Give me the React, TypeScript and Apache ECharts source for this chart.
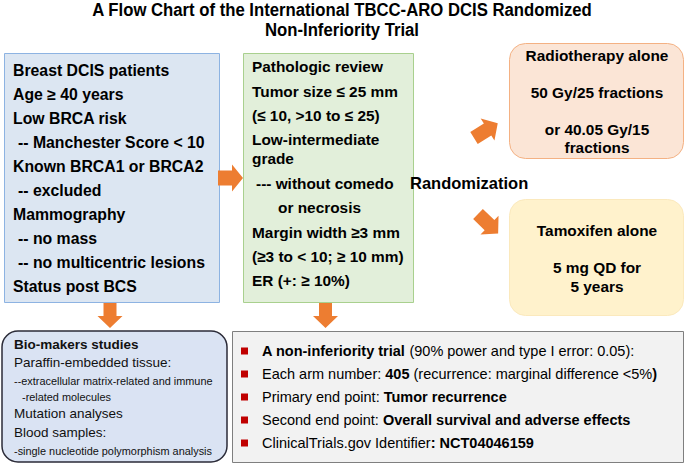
import React, { useEffect, useRef } from "react";
import * as echarts from "echarts";

const titleLines = [
  "A Flow Chart of the International TBCC-ARO DCIS Randomized",
  "Non-Inferiority Trial",
];
const eligibility = [
  "Breast DCIS patients",
  "Age ≥ 40 years",
  "Low BRCA risk",
  "-- Manchester Score < 10",
  "Known BRCA1 or BRCA2",
  "-- excluded",
  "Mammography",
  "-- no mass",
  "-- no multicentric lesions",
  "Status post BCS",
];
const pathology = [
  "Pathologic review",
  "Tumor size ≤ 25 mm",
  "(≤ 10, >10 to ≤ 25)",
  "Low-intermediate",
  "grade",
  "--- without comedo",
  "or necrosis",
  "Margin width ≥3 mm",
  "(≥3 to < 10; ≥ 10 mm)",
  "ER (+: ≥ 10%)",
];
const radiotherapy = ["Radiotherapy alone", "50 Gy/25 fractions", "or 40.05 Gy/15", "fractions"];
const tamoxifen = ["Tamoxifen alone", "5 mg QD for", "5 years"];
const randomLabel = "Randomization";
const biomarkers = [
  "Bio-makers studies",
  "Paraffin-embedded tissue:",
  "--extracellular matrix-related and immune",
  "-related molecules",
  "Mutation analyses",
  "Blood samples:",
  "-single nucleotide polymorphism analysis",
];
const trialFacts = [
  "{b|A non-inferiority trial} (90% power and type I error: 0.05):",
  "Each arm number: {b|405} (recurrence: marginal difference <5%{b|)}",
  "Primary end point: {b|Tumor recurrence}",
  "Second end point: {b|Overall survival and adverse effects}",
  "ClinicalTrials.gov Identifier{b|: NCT04046159}",
];

const FONT = "'Liberation Sans', Arial, Helvetica, sans-serif";
const ORANGE = "#ed7d31";

function txt(text: string, x: number, y: number, o: any = {}) {
  const align = o.align || "left";
  return {
    type: "text",
    x,
    y,
    silent: true,
    scaleX: o.scaleX ?? 1,
    style: {
      text,
      fill: o.fill || "#000",
      fontFamily: o.fontFamily || FONT,
      fontSize: o.fontSize || 15,
      fontWeight: o.fontWeight || "bold",
      align,
      verticalAlign: "middle",
      textAlign: align,
      textVerticalAlign: "middle",
      rich: o.rich,
    },
  };
}

function arrow(tx: number, ty: number, angleDeg: number, L: number, hl: number, bh: number, hh: number) {
  const local = [
    [0, -bh],
    [L - hl, -bh],
    [L - hl, -hh],
    [L, 0],
    [L - hl, hh],
    [L - hl, bh],
    [0, bh],
  ];
  const a = (angleDeg * Math.PI) / 180;
  const c = Math.cos(a);
  const s = Math.sin(a);
  const points = local.map(([x, y]) => [tx + x * c - y * s, ty + x * s + y * c]);
  return { type: "polygon", silent: true, shape: { points }, style: { fill: ORANGE } };
}

function box(x: number, y: number, w: number, h: number, r: number, fill: string, stroke: string, lw = 1) {
  return {
    type: "rect",
    silent: true,
    shape: { x, y, width: w, height: h, r },
    style: { fill, stroke, lineWidth: lw },
  };
}

export default function App() {
  const ref = useRef<HTMLDivElement>(null);
  useEffect(() => {
    if (!ref.current) return;
    const chart = echarts.init(ref.current, undefined, { renderer: "svg" });
    const els: any[] = [];

    // title (condensed look)
    els.push(txt(titleLines[0], 342, 9.5, { align: "center", fontSize: 19, scaleX: 0.88 }));
    els.push(txt(titleLines[1], 342, 29.5, { align: "center", fontSize: 19, scaleX: 0.88 }));

    // boxes
    els.push(box(4.5, 53.5, 215, 249, 0, "#dce6f2", "#8db3e2"));
    els.push(box(243.5, 53.5, 170, 249, 0, "#e2efda", "#a9d08e"));
    els.push(box(509.5, 43.5, 174, 115, 16, "#fbe5d6", "#f4b183"));
    els.push(box(509.5, 199.5, 174, 116, 16, "#fff2cc", "#fbe9bd"));
    els.push(box(2, 331, 225, 131, 16, "#dae3f3", "#2b2b38", 1.5));
    els.push(box(232.5, 331.5, 451, 131, 0, "#f2f2f2", "#7f7f7f"));

    // eligibility text
    eligibility.forEach((t, i) => {
      const indent = t.startsWith("-") ? 5 : 0;
      els.push(txt(t, 13 + indent, 70 + i * 24.1, { fontSize: 15.8 }));
    });

    // pathology text
    const pathY = [66, 91, 115, 139, 158, 183, 207, 232, 256, 280];
    const pathX = [252, 252, 252, 252, 252, 256, 278, 252, 252, 252];
    pathology.forEach((t, i) => {
      els.push(txt(t, pathX[i], pathY[i], { fontSize: 15.4 }));
    });

    // arms
    const radY = [55, 92, 129, 147];
    radiotherapy.forEach((t, i) => els.push(txt(t, 597, radY[i], { align: "center", fontSize: 15.4 })));
    const tamY = [230, 267, 286];
    tamoxifen.forEach((t, i) => els.push(txt(t, 597, tamY[i], { align: "center", fontSize: 15.4 })));
    els.push(txt(randomLabel, 410, 183, { fontSize: 16.5 }));

    // biomarkers
    const bioY = [344, 362, 381, 397, 413, 432, 451];
    const bioX = [14, 14, 14, 22, 14, 14, 14];
    const bioSize = [13.5, 13.5, 10.9, 10.9, 13.5, 13.5, 10.9];
    biomarkers.forEach((t, i) => {
      els.push(
        txt(t, bioX[i], bioY[i], {
          fontSize: bioSize[i],
          fontWeight: i === 0 ? "bold" : "normal",
          fill: "#111",
        })
      );
    });

    // trial facts
    trialFacts.forEach((t, i) => {
      const y = 351 + i * 23;
      els.push({
        type: "rect",
        silent: true,
        shape: { x: 241, y: y - 3.5, width: 7, height: 7 },
        style: { fill: "#c00000" },
      });
      els.push(
        txt(t, 262, y, {
          fontSize: 14.5,
          fontWeight: "normal",
          rich: { b: { fontSize: 14.5, fontFamily: FONT, fontWeight: "bold", fill: "#000" } },
        })
      );
    });

    // arrows
    els.push(arrow(218, 178, 0, 25, 11, 7.5, 13.5));
    els.push(arrow(110, 303, 90, 25, 12, 6.5, 12.5));
    els.push(arrow(325.5, 303, 90, 25, 12, 6.5, 12.5));
    els.push(arrow(474, 138, -32, 28, 12, 7, 13));
    els.push(arrow(478, 214, 44, 28, 12, 7, 13));

    chart.setOption({ animation: false, graphic: { elements: els } });
    return () => chart.dispose();
  }, []);
  return (
    <div
      ref={ref}
      style={{ position: "absolute", left: 0, top: 0, width: 685, height: 464, background: "#fff" }}
    />
  );
}
